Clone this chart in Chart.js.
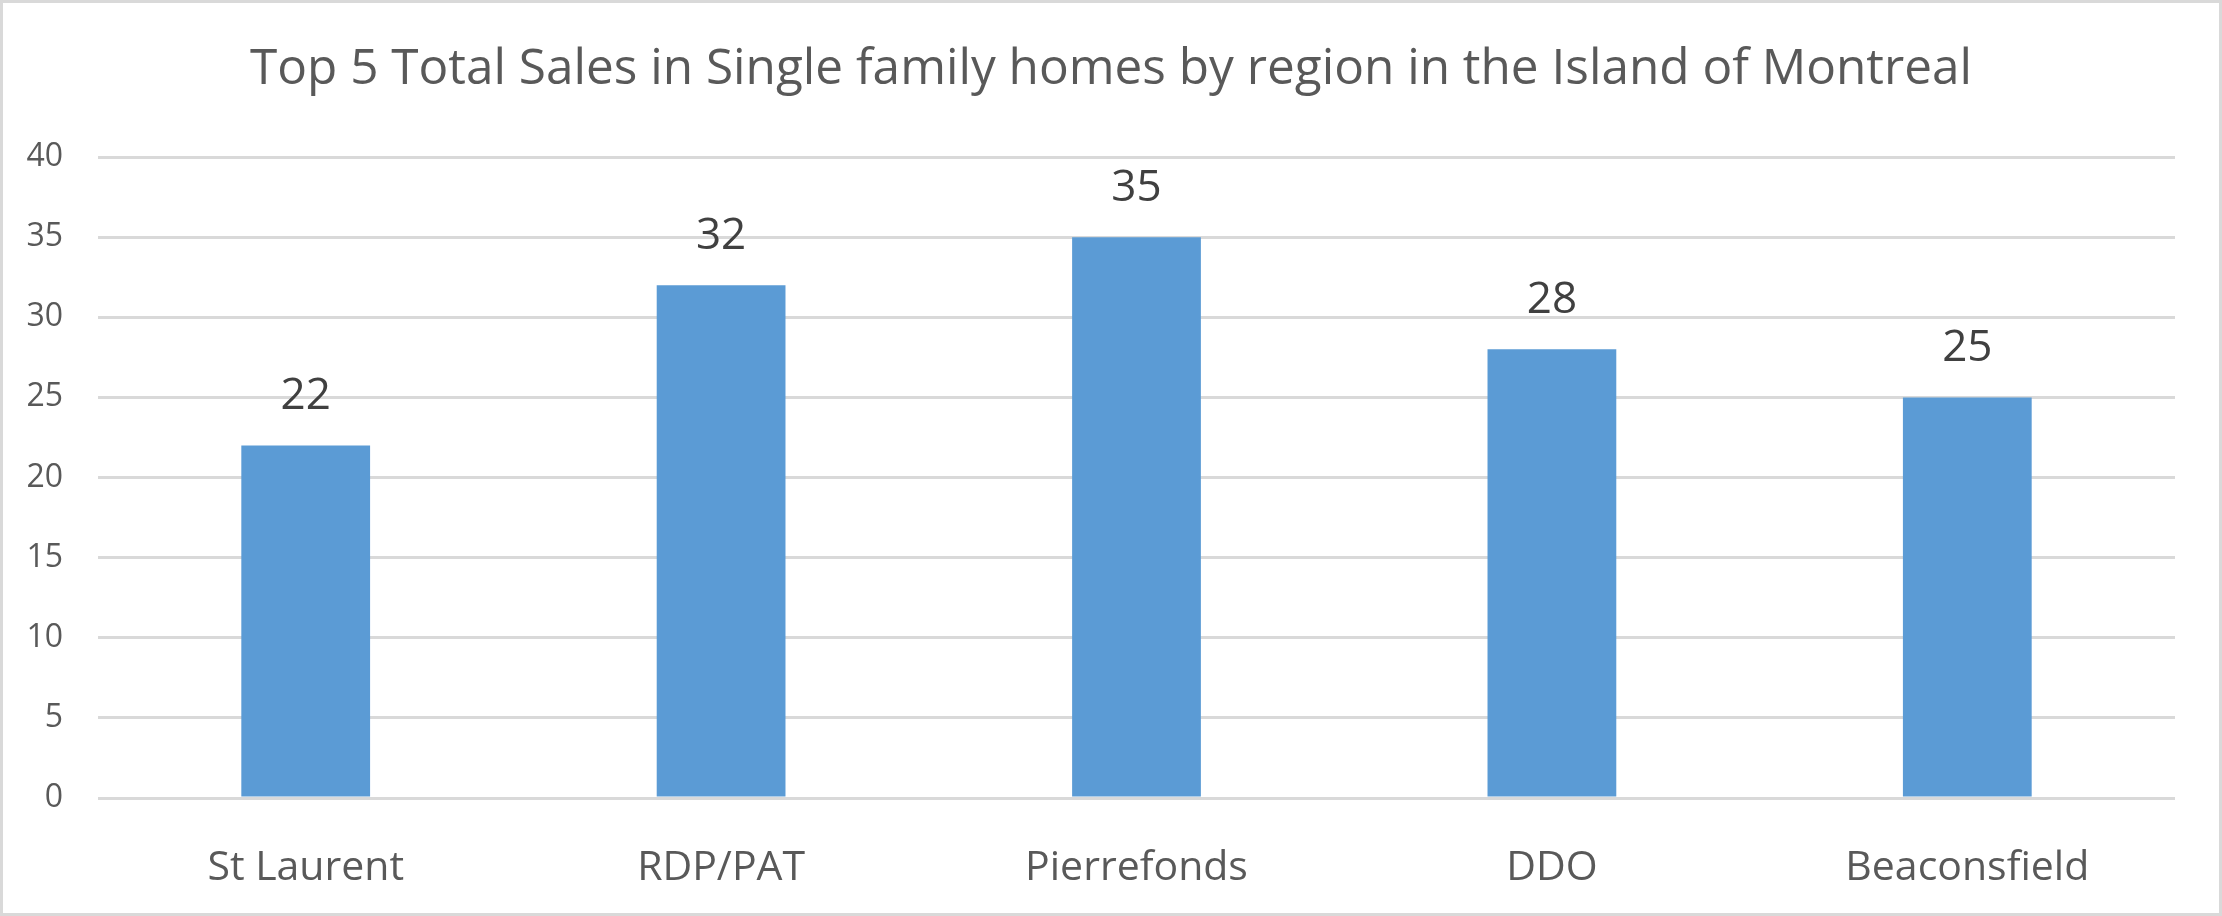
<!DOCTYPE html>
<html>
<head>
<meta charset="utf-8">
<script src="https://cdn.jsdelivr.net/npm/chart.js@4/dist/chart.umd.min.js"></script>
<style>
  html, body { margin: 0; padding: 0; background: #fff; }
  #wrap { width: 2222px; height: 916px; position: relative; }
</style>
</head>
<body>
<div id="wrap"><canvas id="chart"></canvas></div>
<script>
const regions = ["St Laurent", "RDP/PAT", "Pierrefonds", "DDO", "Beaconsfield"];
const totalSales = [22, 32, 35, 28, 25];
const yTicks = [0, 5, 10, 15, 20, 25, 30, 35, 40];
const chartTitle = "Top 5 Total Sales in Single family homes by region in the Island of Montreal";

const fontFamily = "'Open Sans', 'Noto Sans', sans-serif";

// white background, light frame, and the title centred on the whole canvas
const framePlugin = {
  id: "frame",
  beforeDraw(chart) {
    const ctx = chart.ctx;
    ctx.save();
    ctx.fillStyle = "#ffffff";
    ctx.fillRect(0, 0, chart.width, chart.height);
    ctx.strokeStyle = "#d9d9d9";
    ctx.lineWidth = 3;
    ctx.strokeRect(1.5, 1.5, chart.width - 3, chart.height - 3);
    ctx.font = "49.5px " + fontFamily;
    ctx.fillStyle = "#595959";
    ctx.textAlign = "center";
    ctx.textBaseline = "middle";
    ctx.fillText(chartTitle, chart.width / 2, 70);
    ctx.restore();
  }
};

// value labels above each bar
const valueLabels = {
  id: "valueLabels",
  afterDatasetsDraw(chart) {
    const ctx = chart.ctx;
    const meta = chart.getDatasetMeta(0);
    ctx.save();
    ctx.font = "44px " + fontFamily;
    ctx.fillStyle = "#404040";
    ctx.textAlign = "center";
    ctx.textBaseline = "middle";
    meta.data.forEach((bar, i) => {
      ctx.fillText(String(totalSales[i]), bar.x, bar.y - 49);
    });
    ctx.restore();
  }
};

new Chart(document.getElementById("chart"), {
  type: "bar",
  data: {
    labels: regions,
    datasets: [
      {
        label: "Total Sales",
        data: totalSales,
        backgroundColor: "#5b9bd5",
        borderWidth: 0,
        categoryPercentage: 1,
        barPercentage: 0.31
      }
    ]
  },
  options: {
    responsive: true,
    maintainAspectRatio: false,
    animation: false,
    layout: {
      padding: { left: 0, right: 47, top: 157, bottom: 0 }
    },
    plugins: {
      legend: { display: false },
      tooltip: { enabled: false },
      title: { display: false }
    },
    scales: {
      x: {
        grid: { display: false },
        border: { display: false },
        ticks: {
          color: "#595959",
          font: { family: fontFamily, size: 41 },
          padding: 38,
          maxRotation: 0
        },
        afterFit(scale) {
          scale.height = 118;
        }
      },
      y: {
        min: 0,
        max: 40,
        afterBuildTicks(scale) {
          scale.ticks = yTicks.map(v => ({ value: v }));
        },
        grid: {
          color: "#d9d9d9",
          lineWidth: 3,
          drawTicks: false
        },
        border: { display: false },
        ticks: {
          color: "#595959",
          font: { family: fontFamily, size: 32 },
          padding: 35
        },
        afterFit(scale) {
          scale.width = 98;
        }
      }
    }
  },
  plugins: [framePlugin, valueLabels]
});
</script>
</body>
</html>
